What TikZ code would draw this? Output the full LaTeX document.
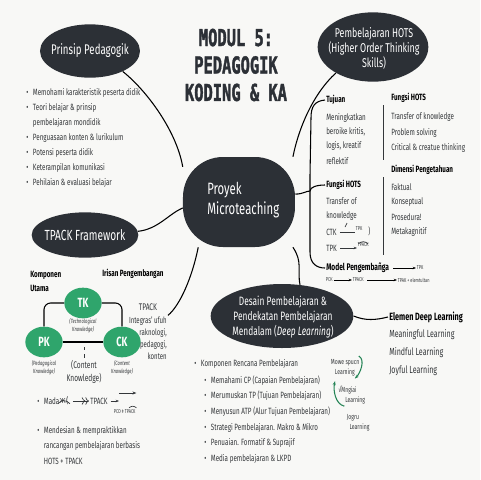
\documentclass[tikz,border=0pt]{standalone}
\usepackage{fontspec}
\setmainfont{Fira Sans}[FakeStretch=0.69]
\newfontfamily\titlefont{DejaVu Sans Mono}[FakeStretch=0.66,FakeBold=1.6]
\newfontfamily\glyphfont{DejaVu Sans}[FakeStretch=0.8]
\usetikzlibrary{shapes.geometric,arrows.meta}
\definecolor{blobgray}{HTML}{2C3036}
\definecolor{kgreen}{HTML}{2FA56C}
\definecolor{paper}{HTML}{F8F8F6}
\definecolor{inkgray}{HTML}{34373A}
\newcommand{\blt}{\textbullet\hspace{3.5pt}}

\tikzset{
  blob/.style={ellipse, fill=blobgray, inner sep=0pt},
  blobtxt/.style={text=white, align=center, inner sep=0pt, font=\fontsize{10.5}{12}\selectfont},
  kcirc/.style={ellipse, fill=kgreen, text=white, inner sep=0pt, minimum width=28pt, minimum height=23pt, font=\fontsize{10}{10}\selectfont\bfseries},
  txt/.style={anchor=west, inner sep=0.75pt, text=inkgray, font=\fontsize{6.8}{8}\selectfont},
  hd/.style={txt, text=black, font=\fontsize{6.8}{8}\selectfont\bfseries},
  eltxt/.style={txt, font=\fontsize{7.7}{8}\selectfont},
  tinytxt/.style={anchor=west, inner sep=0.5pt, text=inkgray, font=\fontsize{4.2}{4.6}\selectfont},
  knowtxt/.style={inner sep=0.5pt, align=center, text=inkgray, font=\fontsize{4.5}{6}\selectfont\itshape},
  hand/.style={inner sep=0.5pt, align=left, text=inkgray, font=\fontsize{5.5}{7.5}\selectfont},
  link/.style={line width=0.8pt, black},
  garrow/.style={line width=0.8pt, kgreen!80!black, -{Stealth[length=3pt]}},
}

\begin{document}
\begin{tikzpicture}[x=0.75pt,y=0.75pt,yscale=-1,xscale=1]
%set diagram: 480 x 480
\fill[paper] (0,0) rectangle (480,480);
\useasboundingbox (0,0) rectangle (480,480);

%Title
\node[text=blobgray, align=center, inner sep=0pt, font={\titlefont\bfseries\fontsize{17.5}{20.6}\selectfont}] (title) at (236,65) {MODUL 5:\\PEDAGOGIK\\KODING \& KA};

%Shape: Ellipse [Prinsip Pedagogik]
\node[blob, minimum width=75pt, minimum height=40pt] (prinsip) at (90,51) {};
\node[blobtxt] (prinsiptxt) at (prinsip) {Prinsip Pedagogik};
%Shape: Ellipse [Pembelajaran HOTS]
\node[blob, minimum width=83pt, minimum height=52pt] (hots) at (373,47) {};
\node[blobtxt, font=\fontsize{9.6}{11.2}\selectfont] (hotstxt) at (374,48) {Pembelajaran HOTS\\(Higher Order Thinking\\Skills)};
%Shape: Rounded rectangle [Proyek Microteaching]
\node[fill=blobgray, rounded corners=30pt, minimum width=84pt, minimum height=67.5pt, inner sep=0pt] (proyek) at (239,202) {};
\node[blobtxt, anchor=west, align=left, font=\fontsize{12.3}{15}\selectfont] (proyektxt) at (207,200) {Proyek\\Microteaching};
%Shape: Ellipse [TPACK Framework]
\node[blob, minimum width=80pt, minimum height=34pt] (tpackfw) at (85,235) {};
\node[blobtxt, font=\fontsize{11}{12}\selectfont] (tpackfwtxt) at (tpackfw) {TPACK Framework};
%Shape: Ellipse [Desain Pembelajaran]
\node[blob, minimum width=107pt, minimum height=48pt] (desain) at (282,316) {};
\node[blobtxt, font=\fontsize{9.1}{11.2}\selectfont] (desaintxt) at (283,317) {Desain Pembelajaran \&\\Pendekatan Pembelajaran\\Mendalam (\textit{Deep Learning})};

% Text Node: Prinsip Pedagogik list
\node[txt] (p1) at (25,93) {\blt Memohami karakteristik peserta didik};
\node[txt] (p2) at (25,108) {\blt Teori belajar \& prinsip};
\node[txt] (p2b) at (25,123) {\phantom{\blt}pembelajaran mondidik};
\node[txt] (p3) at (25,138) {\blt Penguasaan konten \& lurikulum};
\node[txt] (p4) at (25,153) {\blt Potensi peserta didik};
\node[txt] (p5) at (25,168) {\blt Keterampilan komunikasi};
\node[txt] (p6) at (25,183) {\blt Pehilaian \& evaluasi belajar};

% Text Node: Tujuan / Fungsi HOTS / Dimensi
\node[hd] (tujuan) at (325,100) {Tujuan};
\node[txt] (t1) at (325,118) {Meningkatkan};
\node[txt] (t2) at (325,132) {beroike kritis,};
\node[txt] (t3) at (325,146) {logis, kreatif};
\node[txt] (t4) at (325,161) {reflektif};
\node[hd] (fhots) at (390,98) {Fungsi HOTS};
\node[txt] (f1) at (390,117) {Transfer of knowledge};
\node[txt] (f2) at (390,133) {Problem solving};
\node[txt] (f3) at (390,148) {Critical \& creatue thinking};
\node[hd] (dimensi) at (390,170) {Dimensi Pengetahuan};
\node[txt] (d1) at (390,187) {Faktual};
\node[txt] (d2) at (390,202) {Konseptual};
\node[txt] (d3) at (390,217) {Prosedura!};
\node[txt] (d4) at (390,232) {Metakagnitif};
\draw[inkgray, line width=0.6pt] (383,105) -- (383,160);
\draw[inkgray, line width=0.6pt] (383,177) -- (383,255);

\node[hd] (fungsi) at (325,185) {Fungsi HOTS};
\node[txt] (g1) at (325,201) {Transfer of};
\node[txt] (g2) at (325,216) {knowledge};
\node[txt] (ctk) at (325,232) {CTK};
\node[tinytxt] (tpka) at (355,229) {TPK};
\node[txt] (paren) at (367,231) {)};
\draw[inkgray, line width=0.5pt] (ctk.east) ++(2,0) -- (ctk.east -| tpka.west);
\draw[inkgray, line width=0.5pt] (345,227) -- (347,223);
\node[txt] (tpkb) at (325,248) {TPK};
\node[tinytxt] (tpacka) at (357,245) {TPACK};
\draw[inkgray, line width=0.5pt, -{Stealth[length=2.5pt]}] (tpkb.east) ++(2,0) -- (tpkb.east -| tpacka.west);
\draw[inkgray, line width=0.5pt] ([xshift=1pt,yshift=-3pt]tpacka.south west) .. controls +(3,-3) and +(-3,-3) .. ([xshift=-1pt,yshift=-3pt]tpacka.south east);

\node[hd, font=\fontsize{7.2}{8}\selectfont\bfseries] (model) at (325,268) {Model Pengembañga};
\node[tinytxt] (tpkc) at (416,268) {TPK};
\draw[black, line width=0.5pt, -{Stealth[length=2.5pt]}] (model.east) ++(3,0) -- (tpkc.west);
\node[tinytxt] (pck) at (325,280) {PCK};
\node[tinytxt] (tpackb) at (352,280) {TPACK};
\node[tinytxt] (tpak) at (397,280) {TPAK + elemtultan};
\draw[black, line width=0.5pt, -{Stealth[length=2.5pt]}] (pck.east) -- (tpackb.west);
\draw[black, line width=0.5pt, -{Stealth[length=2.5pt]}] (tpackb.east) ++(3,0) -- (tpak.west);

% bracket on the right of the centre
\coordinate (brk) at (310,191);
\draw[link] (tujuan.west) .. controls +(-10,1) and +(0,-12) .. (311,118) -- (310,176) .. controls +(0,8) and +(0,-6) .. (brk);
\draw[link] (fungsi.west) .. controls +(-8,0) and +(0,-4) .. (brk);
\draw[link] (brk) .. controls +(0,8) and +(0,-8) .. (310,210) -- (310,252) .. controls +(0,12) and +(-8,0) .. (model.west);

% TPACK Framework part
\node[hd] (komp) at (29,275) {Komponen};
\node[hd] (utama) at (29,288) {Utama};
\node[hd] (irisan) at (101,274) {Irisan Pengembangan};
\node[kcirc] (tk) at (83,303) {TK};
\node[kcirc] (pk) at (44,342) {PK};
\node[kcirc] (ck) at (122,342) {CK};
\draw[link, rounded corners=5pt] (tk.west) -| (pk.north);
\draw[link, rounded corners=5pt] (tk.east) -| (ck.north);
\draw[link] (pk.east) -- (ck.west);
\node[knowtxt] (tklbl) at (83,326) {(Technological\\Knowledge)};
\node[knowtxt] (pklbl) at (44,368) {(Pedagogical\\Knowledge)};
\node[knowtxt] (cklbl) at (122,368) {(Content\\Knowledge)};
\node[txt, anchor=center, align=center, font=\fontsize{7.2}{9.5}\selectfont] (cknow) at (84,372) {(Content\\Knowledge)};
\draw[inkgray, line width=0.5pt, dashed] ([yshift=-1pt]cknow.north) -- ++(0,-11);
\node[txt, anchor=center, font=\fontsize{7.2}{8}\selectfont] (tpackc) at (148,307) {TPACK};
\node[txt, anchor=east, align=right, font=\fontsize{6.6}{9}\selectfont] (integras) at (168,338) {Integras' ufuh\\raknologi,\\pedagogi,\\konten};

% Text Node: bottom left
\node[txt] (mada) at (36,401) {\blt Mada};
\node[txt, font=\glyphfont\fontsize{6.8}{8}\selectfont] (zh) at (58,401) {ж(};
\draw[inkgray, line width=0.5pt] ([yshift=-2pt]zh.south west) .. controls +(4,-4) and +(-4,-4) .. ([yshift=-2pt]zh.south east);
\node[txt] (tpackd) at (89,401) {TPACK};
\draw[inkgray, line width=0.5pt, ->>] (zh.east) ++(3,0) -- (tpackd.west);
\coordinate (arrhead) at (119,401);
\draw[inkgray, line width=0.5pt, -{Stealth[length=2.5pt]}] (tpackd.east) ++(2,0) -- (arrhead);
\node[tinytxt] (pcd) at (113,412) {PCD ‡ TPACK};
\coordinate (longa) at (119,393);
\draw[inkgray, line width=0.6pt, -{Stealth[length=3pt]}] (longa) -- (longa -| pcd.east);
\draw[inkgray, line width=0.5pt] ([xshift=12pt,yshift=-1pt]pcd.north west) .. controls +(3,-2) and +(-3,-2) .. ([yshift=-1pt]pcd.north east);
\node[txt] (m1) at (36,431) {\blt Mendesian \& mempraktikkan};
\node[txt] (m2) at (36,446) {\phantom{\blt}rancangan pembelajaran berbasis};
\node[txt] (m3) at (36,461) {\phantom{\blt}HOTS + TPACK};

% Text Node: Komponen Rencana Pembelajaran
\node[txt] (krp) at (193,364) {\blt Komponen Rencana Pembelajaran};
\node[txt] (k1) at (203,381) {\blt Memahami CP (Capaian Pembelajaran)};
\node[txt] (k2) at (203,396) {\blt Merumuskan TP (Tujuan Pembelajaran)};
\node[txt] (k3) at (203,412) {\blt Menyusun ATP (Alur Tujuan Pembelajaran)};
\node[txt] (k4) at (203,428) {\blt Strategi Pembelajaran. Makro \& Mikro};
\node[txt] (k5) at (203,443) {\blt Penuaian. Formatif \& Suprajif};
\node[txt] (k6) at (203,459) {\blt Media pembelajaran \& LKPD};

% handwritten notes
\node[hand, anchor=west] (mowe) at (330,368) {Mowe spucn\\\hspace*{3pt}Learning};
\node[hand, anchor=west] (mngiai) at (335,395) {\hspace*{2pt}√Mngiai\\\hspace*{7pt}Learning};
\node[hand, anchor=west] (jogru) at (346,423) {Jogru\\\hspace*{2pt}Learning};
\draw[garrow] ([xshift=-1pt,yshift=-2pt]mowe.north east) .. controls +(7,4) and +(5,-5) .. ([xshift=-4pt,yshift=1pt]mowe.south east);
\draw[garrow] ([xshift=7pt,yshift=1pt]mngiai.south west) .. controls +(-9,-2) and +(-2,9) .. ([yshift=-3pt]mngiai.north west);

% Text Node: Elemen Deep Learning
\node[hd, font=\fontsize{7.9}{8}\selectfont\bfseries] (elemen) at (388,317) {Elemen Deep Learning};
\node[eltxt] (e1) at (388,335) {Meaningful Learning};
\node[eltxt] (e2) at (388,353) {Mindful Learning};
\node[eltxt] (e3) at (388,371) {Joyful Learning};

% connectors
\draw[link] (prinsip.-32) .. controls +(25,20) and +(-6,-35) .. (proyek.148);
\draw[link] (hots.-145) .. controls +(-22,20) and +(6,-30) .. (proyek.40);
\draw[link] (proyek.8) .. controls +(8,0) and +(-4,0) .. (brk);
\draw[link] (tpackfw.4) .. controls +(20,-2) and +(-14,6) .. (proyek.186);
\draw[link] (proyek.228) .. controls +(-6,30) and +(12,-10) .. (integras.north east);
\draw[link] (proyek.-40) .. controls +(10,15) and +(-3,-15) .. (desain.60);
\draw[link] (desain.east) .. controls +(12,5) and +(-12,3) .. (elemen.west);
\end{tikzpicture}
\end{document}
